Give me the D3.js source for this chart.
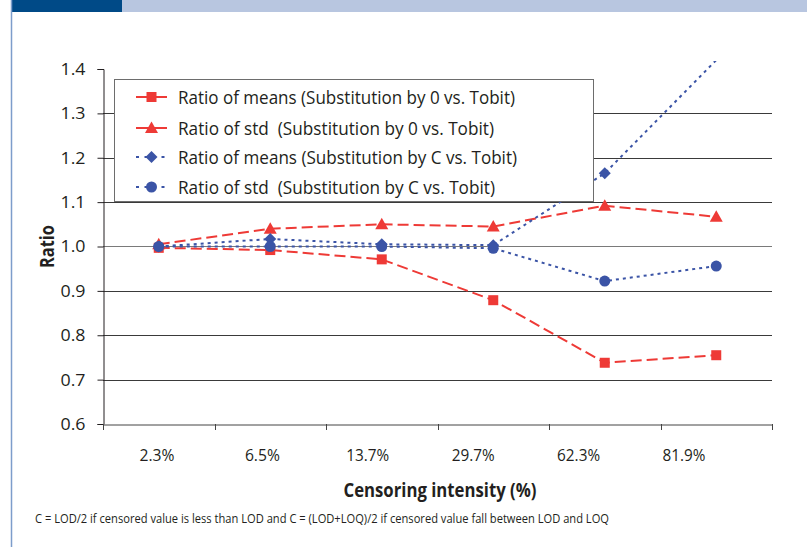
<!DOCTYPE html>
<html>
<head>
<meta charset="utf-8">
<script src="https://cdn.jsdelivr.net/npm/d3@7"></script>
<style>
  body { margin: 0; background: #fff; }
  svg text { font-family: "Open Sans", sans-serif; fill: #231f20; }
</style>
</head>
<body>
<div id="chart"></div>
<script>
// Categories and series
const categories = ["2.3%", "6.5%", "13.7%", "29.7%", "62.3%", "81.9%"];
const meansZero = [0.997, 0.992, 0.971, 0.879, 0.738, 0.755];
const stdZero   = [1.005, 1.040, 1.050, 1.045, 1.092, 1.067];
const meansC    = [1.000, 1.017, 1.005, 1.003, 1.165, 1.420];
const stdC      = [1.000, 1.000, 1.000, 0.996, 0.922, 0.956];
const yTicks = [0.6, 0.7, 0.8, 0.9, 1.0, 1.1, 1.2, 1.3, 1.4];

const seriesNames = [
    "Ratio of means (Substitution by 0 vs. Tobit)",
    "Ratio of std  (Substitution by 0 vs. Tobit)",
    "Ratio of means (Substitution by C vs. Tobit)",
    "Ratio of std  (Substitution by C vs. Tobit)"
];

const RED = "#ee3a36";
const BLUE = "#3b54a6";

const series = [
    { name: seriesNames[0], values: meansZero, color: RED, marker: "square", dash: "11,5", textLen: 337 },
    { name: seriesNames[1], values: stdZero, color: RED, marker: "triangle", dash: "11,5", textLen: 316 },
    { name: seriesNames[2], values: meansC, color: BLUE, marker: "diamond", dash: "3,4", textLen: 339 },
    { name: seriesNames[3], values: stdC, color: BLUE, marker: "circle", dash: "3,4", textLen: 317 }
];

const width = 807, height = 547;
const plot = { left: 103, right: 772, top: 69, bottom: 424 };

const svg = d3.select("#chart").append("svg")
    .attr("width", width)
    .attr("height", height);

// page decoration
svg.append("rect").attr("x", 12).attr("y", 0).attr("width", width - 12).attr("height", 12).attr("fill", "#b8c6e0");
svg.append("rect").attr("x", 12).attr("y", 0).attr("width", 110).attr("height", 12).attr("fill", "#004a87");
svg.append("line").attr("x1", 11.5).attr("x2", 11.5).attr("y1", 0).attr("y2", height)
    .attr("stroke", "#7d9dcb").attr("stroke-width", 1.5);

// scales
const x = d3.scaleBand()
    .domain(categories)
    .range([plot.left, plot.right]);

const xLabel = d3.scalePoint()
    .domain(categories)
    .range([157, 684]);

const y = d3.scaleLinear()
    .domain([0.6, 1.4])
    .range([plot.bottom, plot.top]);

// grid lines
svg.append("g")
    .selectAll("line")
    .data(yTicks.filter(t => t > 0.6 && t < 1.4))
    .enter()
    .append("line")
    .attr("x1", plot.left)
    .attr("x2", plot.right)
    .attr("y1", d => Math.round(y(d)) + 0.5)
    .attr("y2", d => Math.round(y(d)) + 0.5)
    .attr("stroke", d => d === 1.0 ? "#7a7a7a" : "#3a3a3a")
    .attr("stroke-width", 1);

// Y axis
const yAxis = svg.append("g")
    .attr("transform", `translate(${plot.left + 0.5},0)`)
    .call(d3.axisLeft(y).tickValues(yTicks).tickFormat(d3.format(".1f")).tickSizeOuter(0).tickSize(6).tickPadding(12));
yAxis.selectAll("text").style("font-size", "17px").attr("fill", "#231f20")
    .attr("textLength", 25).attr("lengthAdjust", "spacingAndGlyphs");
yAxis.selectAll(".domain, .tick line").attr("stroke", "#231f20");

// X axis
const xAxis = svg.append("g")
    .attr("transform", `translate(0,${plot.bottom + 0.5})`)
    .call(d3.axisBottom(x).tickValues([]).tickSizeOuter(0));
xAxis.select(".domain").attr("stroke", "#444");
svg.append("g")
    .selectAll("line")
    .data(d3.range(categories.length + 1))
    .enter()
    .append("line")
    .attr("x1", i => Math.round(plot.left + i * x.step()) + 0.5)
    .attr("x2", i => Math.round(plot.left + i * x.step()) + 0.5)
    .attr("y1", plot.bottom)
    .attr("y2", plot.bottom + 6)
    .attr("stroke", "#444");

svg.append("g")
    .selectAll("text")
    .data(categories)
    .enter()
    .append("text")
    .attr("x", d => xLabel(d))
    .attr("y", 461)
    .attr("text-anchor", "middle")
    .style("font-size", "17px")
    .attr("textLength", d => d.length > 4 ? 43 : 35)
    .attr("lengthAdjust", "spacingAndGlyphs")
    .text(d => d);

// axis titles
svg.append("text")
    .attr("transform", `translate(54,${y(1.0)}) rotate(-90)`)
    .attr("text-anchor", "middle")
    .style("font-size", "19px")
    .style("font-weight", "bold")
    .attr("textLength", 43)
    .attr("lengthAdjust", "spacingAndGlyphs")
    .text("Ratio");

svg.append("text")
    .attr("x", 440)
    .attr("y", 497)
    .attr("text-anchor", "middle")
    .style("font-size", "19px")
    .style("font-weight", "bold")
    .attr("textLength", 193)
    .attr("lengthAdjust", "spacingAndGlyphs")
    .text("Censoring intensity (%)");

svg.append("text")
    .attr("x", 35)
    .attr("y", 523)
    .style("font-size", "12.5px")
    .attr("textLength", 574)
    .attr("lengthAdjust", "spacingAndGlyphs")
    .text("C = LOD/2 if censored value is less than LOD and C = (LOD+LOQ)/2 if censored value fall between LOD and LOQ");

// clip for lines
svg.append("clipPath").attr("id", "plot-clip")
    .append("rect")
    .attr("x", plot.left)
    .attr("y", plot.top - 8)
    .attr("width", plot.right - plot.left)
    .attr("height", plot.bottom - plot.top + 8);

const line = d3.line()
    .x((d, i) => x(categories[i]) + x.bandwidth() / 2)
    .y(d => y(d));

function drawMarker(g, type, color) {
    if (type === "square") {
        g.append("rect").attr("x", -5).attr("y", -5).attr("width", 10).attr("height", 10).attr("fill", color);
    } else if (type === "triangle") {
        g.append("path").attr("d", "M0,-6.5L6.5,5L-6.5,5Z").attr("fill", color);
    } else if (type === "diamond") {
        g.append("path").attr("d", "M0,-6L6,0L0,6L-6,0Z").attr("fill", color);
    } else {
        g.append("circle").attr("r", 5.5).attr("fill", color);
    }
}

const lines = svg.append("g").attr("clip-path", "url(#plot-clip)");
series.forEach(s => {
    lines.append("path")
        .datum(s.values)
        .attr("fill", "none")
        .attr("stroke", s.color)
        .attr("stroke-width", 2)
        .attr("stroke-dasharray", s.dash)
        .attr("d", line);
});

// markers (hidden when above the axis maximum, as in the original)
series.forEach(s => {
    s.values.forEach((v, i) => {
        if (v > y.domain()[1]) return;
        const g = svg.append("g")
            .attr("transform", `translate(${x(categories[i]) + x.bandwidth() / 2},${y(v)})`);
        drawMarker(g, s.marker, s.color);
    });
});

// Legend
const legend = svg.append("g");
legend.append("rect")
    .attr("x", 114.5)
    .attr("y", 79.5)
    .attr("width", 479)
    .attr("height", 122)
    .attr("fill", "#fff")
    .attr("stroke", "#6d6d6d")
    .attr("stroke-width", 1);

const rowY = [97, 128, 157, 187];
series.forEach((s, i) => {
    const g = legend.append("g").attr("transform", `translate(0,${rowY[i]})`);
    g.append("line")
        .attr("x1", 136).attr("x2", 167)
        .attr("stroke", s.color)
        .attr("stroke-width", 2)
        .attr("stroke-dasharray", s.color === RED ? "none" : "3,5.5");
    const m = g.append("g").attr("transform", "translate(151.5,0)");
    drawMarker(m, s.marker, s.color);
    g.append("text")
        .attr("x", 178)
        .attr("y", 6.5)
        .style("font-size", "19px")
        .attr("xml:space", "preserve")
        .attr("textLength", s.textLen)
        .attr("lengthAdjust", "spacingAndGlyphs")
        .text(s.name);
});
</script>
</body>
</html>
